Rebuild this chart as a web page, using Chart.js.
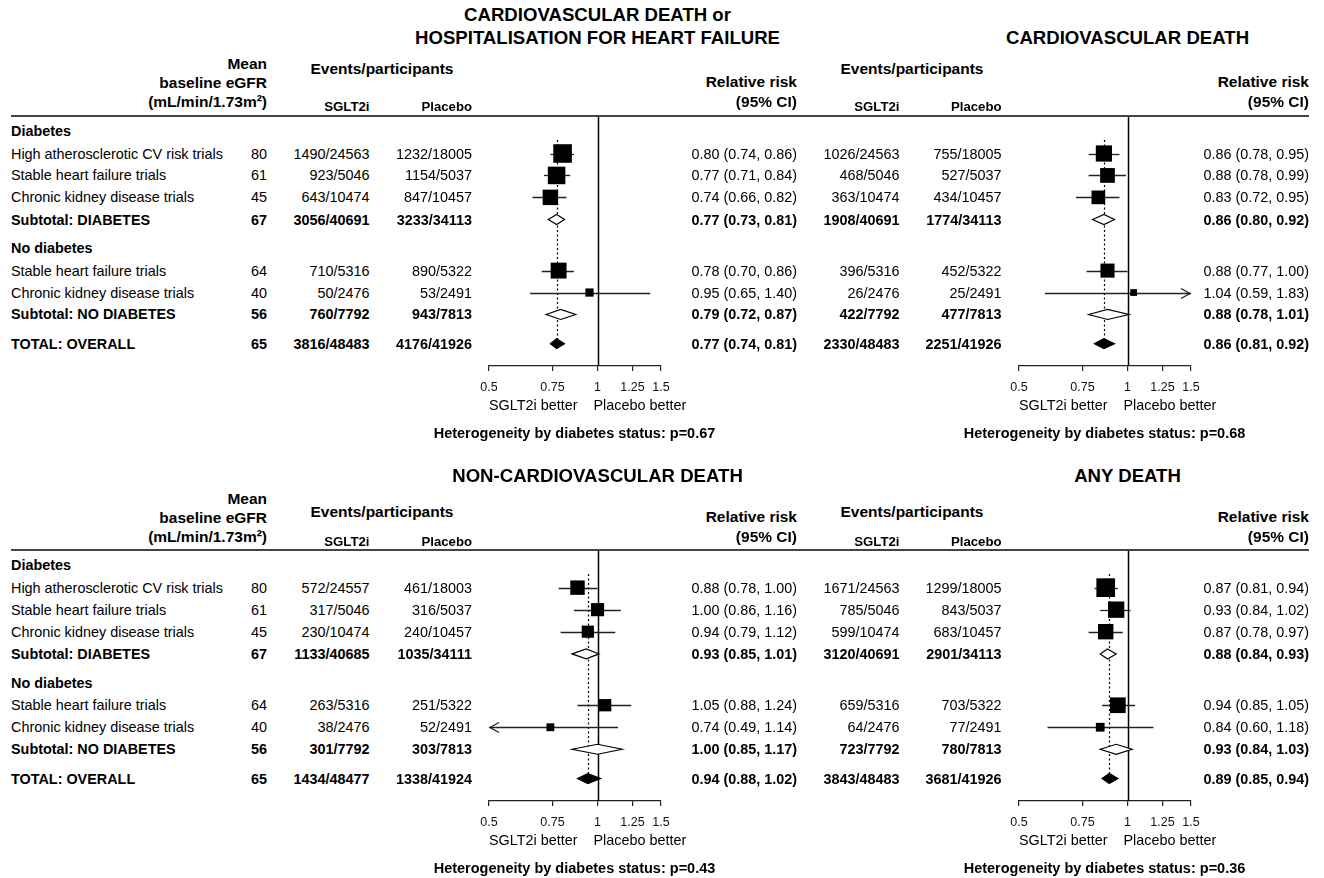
<!DOCTYPE html>
<html>
<head>
<meta charset="utf-8">
<title>SGLT2 inhibitors by diabetes status</title>
<script src="https://cdn.jsdelivr.net/npm/chart.js@4.4.1/dist/chart.umd.min.js"></script>
<style>
  html, body { margin: 0; padding: 0; background: #fff; }
  #page { position: relative; width: 1324px; height: 878px; overflow: hidden;
          font-family: "Liberation Sans", Arial, sans-serif; color: #000; }
  #page canvas { position: absolute; }
  .t { position: absolute; white-space: nowrap; line-height: 1; }
  .rule { position: absolute; height: 2px; background: #444; }
</style>
</head>
<body>
<div id="page"></div>
<script>
// ---- Rows shared by every panel ----
const rowLabels = ['Diabetes', 'High atherosclerotic CV risk trials', 'Stable heart failure trials',
  'Chronic kidney disease trials', 'Subtotal: DIABETES', 'No diabetes', 'Stable heart failure trials',
  'Chronic kidney disease trials', 'Subtotal: NO DIABETES', 'TOTAL: OVERALL'];
const rowKinds = ['group', 'trial', 'trial', 'trial', 'subtotal', 'group', 'trial', 'trial', 'subtotal', 'total'];
const meanEgfr = [null, 80, 61, 45, 67, null, 64, 40, 56, 65];

// ---- Relative-risk axis ----
const axisTicks = [0.5, 0.75, 1, 1.25, 1.5];
const axisTickLabels = ['0.5', '0.75', '1', '1.25', '1.5'];

// ---- Cardiovascular death or hospitalisation for heart failure ----
const cvHfSglt2 = [null, '1490/24563', '923/5046', '643/10474', '3056/40691', null, '710/5316', '50/2476', '760/7792', '3816/48483'];
const cvHfPlacebo = [null, '1232/18005', '1154/5037', '847/10457', '3233/34113', null, '890/5322', '53/2491', '943/7813', '4176/41926'];
const cvHfRR = [null, 0.80, 0.77, 0.74, 0.77, null, 0.78, 0.95, 0.79, 0.77];
const cvHfLow = [null, 0.74, 0.71, 0.66, 0.73, null, 0.70, 0.65, 0.72, 0.74];
const cvHfHigh = [null, 0.86, 0.84, 0.82, 0.81, null, 0.86, 1.40, 0.87, 0.81];
const cvHfP = '0.67';

// ---- Cardiovascular death ----
const cvdSglt2 = [null, '1026/24563', '468/5046', '363/10474', '1908/40691', null, '396/5316', '26/2476', '422/7792', '2330/48483'];
const cvdPlacebo = [null, '755/18005', '527/5037', '434/10457', '1774/34113', null, '452/5322', '25/2491', '477/7813', '2251/41926'];
const cvdRR = [null, 0.86, 0.88, 0.83, 0.86, null, 0.88, 1.04, 0.88, 0.86];
const cvdLow = [null, 0.78, 0.78, 0.72, 0.80, null, 0.77, 0.59, 0.78, 0.81];
const cvdHigh = [null, 0.95, 0.99, 0.95, 0.92, null, 1.00, 1.83, 1.01, 0.92];
const cvdP = '0.68';

// ---- Non-cardiovascular death ----
const noncvSglt2 = [null, '572/24557', '317/5046', '230/10474', '1133/40685', null, '263/5316', '38/2476', '301/7792', '1434/48477'];
const noncvPlacebo = [null, '461/18003', '316/5037', '240/10457', '1035/34111', null, '251/5322', '52/2491', '303/7813', '1338/41924'];
const noncvRR = [null, 0.88, 1.00, 0.94, 0.93, null, 1.05, 0.74, 1.00, 0.94];
const noncvLow = [null, 0.78, 0.86, 0.79, 0.85, null, 0.88, 0.49, 0.85, 0.88];
const noncvHigh = [null, 1.00, 1.16, 1.12, 1.01, null, 1.24, 1.14, 1.17, 1.02];
const noncvP = '0.43';

// ---- Any death ----
const anySglt2 = [null, '1671/24563', '785/5046', '599/10474', '3120/40691', null, '659/5316', '64/2476', '723/7792', '3843/48483'];
const anyPlacebo = [null, '1299/18005', '843/5037', '683/10457', '2901/34113', null, '703/5322', '77/2491', '780/7813', '3681/41926'];
const anyRR = [null, 0.87, 0.93, 0.87, 0.88, null, 0.94, 0.84, 0.93, 0.89];
const anyLow = [null, 0.81, 0.84, 0.78, 0.84, null, 0.85, 0.60, 0.84, 0.85];
const anyHigh = [null, 0.94, 1.02, 0.97, 0.93, null, 1.05, 1.18, 1.03, 0.94];
const anyP = '0.36';

const panels = [
  { title: ['CARDIOVASCULAR DEATH or', 'HOSPITALISATION FOR HEART FAILURE'], sglt2: cvHfSglt2, placebo: cvHfPlacebo,
    rr: cvHfRR, low: cvHfLow, high: cvHfHigh, p: cvHfP, section: 0, column: 0 },
  { title: ['CARDIOVASCULAR DEATH'], sglt2: cvdSglt2, placebo: cvdPlacebo,
    rr: cvdRR, low: cvdLow, high: cvdHigh, p: cvdP, section: 0, column: 1 },
  { title: ['NON-CARDIOVASCULAR DEATH'], sglt2: noncvSglt2, placebo: noncvPlacebo,
    rr: noncvRR, low: noncvLow, high: noncvHigh, p: noncvP, section: 1, column: 0 },
  { title: ['ANY DEATH'], sglt2: anySglt2, placebo: anyPlacebo,
    rr: anyRR, low: anyLow, high: anyHigh, p: anyP, section: 1, column: 1 }
];

// ---- Layout ----
const PAGE_W = 1324;
const FONT = '"Liberation Sans", Arial, sans-serif';
const BODY = 14.4;
const rowPos = [0.7, 1.71, 2.71, 3.71, 4.72, 6.04, 7.05, 8.05, 9.05, 10.38]; // vertical slot of each row
const rowSpan = 11.4;          // rows shown between the header rule and the axis
const dottedFrom = 1.09;       // where the overall-estimate guide starts
const sectionLayout = [
  { canvasTop: 100, canvasH: 300,
    head: { mean: -52, base: -33.3, unit: -14, events: -46.7, arm: -9.3, rr: -33.7, ci: -14.3, title: -78 } },
  { canvasTop: 534, canvasH: 301,
    head: { mean: -51, base: -32.3, unit: -13, events: -38.3, arm: -8.3, rr: -32.7, ci: -12.7, title: -74 } }
];
const columnLayout = [
  { canvasLeft: 439, sgltRight: 369.5, pboRight: 472, rrRight: 797, eventsCenter: 382 },
  { canvasLeft: 969, sgltRight: 899.5, pboRight: 1001.5, rrRight: 1309, eventsCenter: 912 }
];
const CANVAS_W = 272;

const page = document.getElementById('page');

function put(str, x, y, o = {}) {
  const d = document.createElement('div');
  d.className = 't';
  d.textContent = str;
  d.style.fontSize = (o.size || BODY) + 'px';
  if (o.bold) d.style.fontWeight = 'bold';
  const align = o.align || 'left';
  if (align === 'right') {
    d.style.right = (PAGE_W - x) + 'px';
    d.style.transform = 'translateY(-50%)';
  } else if (align === 'center') {
    d.style.left = x + 'px';
    d.style.transform = 'translate(-50%, -50%)';
  } else {
    d.style.left = x + 'px';
    d.style.transform = 'translateY(-50%)';
  }
  d.style.top = y + 'px';
  page.appendChild(d);
  return d;
}

const fmt = v => v.toFixed(2);
// square side grows with the precision of the estimate
const boxSide = (lo, hi) => 7.2 / Math.sqrt(Math.log(hi / lo));

function forestPlugin(panel) {
  return {
    id: 'forestMarks',
    beforeDatasetsDraw(chart) {
      const { ctx, chartArea: a, scales: { x, y } } = chart;
      ctx.save();
      // line of no effect
      const x1 = Math.round(x.getPixelForValue(1)) + 0.5;
      ctx.strokeStyle = '#000';
      ctx.lineWidth = 1.5;
      ctx.beginPath(); ctx.moveTo(x1, a.top); ctx.lineTo(x1, a.bottom); ctx.stroke();
      // dotted guide at the overall estimate
      const ti = rowKinds.indexOf('total');
      const xo = Math.round(x.getPixelForValue(panel.rr[ti])) + 0.5;
      ctx.lineWidth = 1.2;
      ctx.setLineDash([2, 2.5]);
      ctx.beginPath();
      ctx.moveTo(xo, y.getPixelForValue(dottedFrom));
      ctx.lineTo(xo, y.getPixelForValue(rowPos[ti]));
      ctx.stroke();
      ctx.setLineDash([]);
      // confidence intervals of individual trial groups
      ctx.strokeStyle = '#222';
      ctx.lineWidth = 1.3;
      rowKinds.forEach((k, i) => {
        if (k !== 'trial') return;
        const yy = Math.round(y.getPixelForValue(rowPos[i])) + 0.5;
        const l = x.getPixelForValue(Math.max(panel.low[i], x.min));
        const r = x.getPixelForValue(Math.min(panel.high[i], x.max));
        ctx.beginPath(); ctx.moveTo(l, yy); ctx.lineTo(r, yy); ctx.stroke();
        const arrow = (tip, dir) => {
          ctx.beginPath();
          ctx.moveTo(tip - dir * 9, yy - 5);
          ctx.lineTo(tip, yy);
          ctx.lineTo(tip - dir * 9, yy + 5);
          ctx.stroke();
        };
        if (panel.low[i] < x.min) arrow(l + 1, -1);
        if (panel.high[i] > x.max) arrow(r - 1, 1);
      });
      ctx.restore();
    },
    afterDatasetsDraw(chart) {
      const { ctx, scales: { x, y } } = chart;
      ctx.save();
      rowKinds.forEach((k, i) => {
        if (k !== 'subtotal' && k !== 'total') return;
        const yy = y.getPixelForValue(rowPos[i]);
        const xl = x.getPixelForValue(panel.low[i]);
        const xm = x.getPixelForValue(panel.rr[i]);
        const xr = x.getPixelForValue(panel.high[i]);
        const h = 5;
        ctx.beginPath();
        ctx.moveTo(xl, yy); ctx.lineTo(xm, yy - h); ctx.lineTo(xr, yy); ctx.lineTo(xm, yy + h); ctx.closePath();
        ctx.fillStyle = k === 'total' ? '#000' : '#fff';
        ctx.fill();
        ctx.strokeStyle = '#000';
        ctx.lineWidth = 1.2;
        ctx.stroke();
      });
      ctx.restore();
    }
  };
}

function makeChart(panel) {
  const sec = sectionLayout[panel.section];
  const col = columnLayout[panel.column];
  const cv = document.createElement('canvas');
  cv.width = CANVAS_W;
  cv.height = sec.canvasH;
  cv.style.left = col.canvasLeft + 'px';
  cv.style.top = sec.canvasTop + 'px';
  page.appendChild(cv);

  const trialRows = rowKinds.map((k, i) => (k === 'trial' ? i : -1)).filter(i => i >= 0);
  const radii = trialRows.map(i => boxSide(panel.low[i], panel.high[i]) / (2 * Math.SQRT1_2));

  return new Chart(cv, {
    type: 'scatter',
    data: {
      datasets: [{
        data: trialRows.map(i => ({ x: panel.rr[i], y: rowPos[i] })),
        pointStyle: 'rect',
        pointRadius: radii,
        pointHoverRadius: radii,
        pointBorderWidth: 0,
        backgroundColor: '#000',
        borderColor: '#000'
      }]
    },
    options: {
      responsive: false,
      animation: false,
      events: [],
      layout: { padding: { left: 50, right: 50, top: 16, bottom: 4 } },
      plugins: { legend: { display: false }, tooltip: { enabled: false }, title: { display: false } },
      scales: {
        x: {
          type: 'logarithmic',
          position: 'bottom',
          min: 0.5,
          max: 1.5,
          bounds: 'data',
          afterBuildTicks: s => { s.ticks = axisTicks.map(v => ({ value: v })); },
          afterFit: s => { s.height = 30; },
          grid: { drawOnChartArea: false, drawTicks: true, tickLength: 5, color: '#222', lineWidth: 1.2 },
          border: { display: true, color: '#222', width: 1.2 },
          ticks: {
            autoSkip: false, maxRotation: 0, minRotation: 0, padding: 9,
            color: '#111', font: { family: FONT, size: 12.5 },
            callback: (v, idx) => axisTickLabels[idx]
          }
        },
        y: { type: 'linear', display: false, reverse: true, min: 0, max: rowSpan }
      }
    },
    plugins: [forestPlugin(panel)]
  });
}

const charts = panels.map(makeChart);

// ---- Text: shared row column, per-panel columns, headings ----
panels.forEach((panel, pi) => {
  const chart = charts[pi];
  const sec = sectionLayout[panel.section];
  const col = columnLayout[panel.column];
  const top = sec.canvasTop;
  const left = col.canvasLeft;
  const ruleY = top + chart.chartArea.top;
  const axisY = top + chart.chartArea.bottom;
  const x1 = left + chart.scales.x.getPixelForValue(1);
  const rowY = i => top + chart.scales.y.getPixelForValue(rowPos[i]);
  const h = sec.head;

  if (panel.column === 0) {
    // header rule across the table
    const rule = document.createElement('div');
    rule.className = 'rule';
    rule.style.left = '11px';
    rule.style.width = (1309 - 11) + 'px';
    rule.style.top = (ruleY - 1) + 'px';
    page.appendChild(rule);

    put('Mean', 267, ruleY + h.mean, { align: 'right', bold: true, size: 15.5 });
    put('baseline eGFR', 267, ruleY + h.base, { align: 'right', bold: true, size: 15.5 });
    put('(mL/min/1.73m\u00B2)', 267, ruleY + h.unit, { align: 'right', bold: true, size: 15.5 });

    rowLabels.forEach((lab, i) => {
      const bold = rowKinds[i] !== 'trial';
      put(lab, 11, rowY(i), { bold });
      if (meanEgfr[i] !== null) put(String(meanEgfr[i]), 267, rowY(i), { align: 'right', bold });
    });
  }

  // panel title, centred on the line of no effect
  const titleLines = panel.title;
  titleLines.forEach((line, li) => {
    const yy = ruleY + h.title - (titleLines.length - 1 - li) * 23;
    put(line, x1, yy, { align: 'center', bold: true, size: 18.6 });
  });

  put('Events/participants', col.eventsCenter, ruleY + h.events, { align: 'center', bold: true, size: 15.5 });
  put('SGLT2i', col.sgltRight, ruleY + h.arm, { align: 'right', bold: true, size: 13.2 });
  put('Placebo', col.pboRight, ruleY + h.arm, { align: 'right', bold: true, size: 13.2 });
  put('Relative risk', col.rrRight, ruleY + h.rr, { align: 'right', bold: true, size: 15.5 });
  put('(95% CI)', col.rrRight, ruleY + h.ci, { align: 'right', bold: true, size: 15.5 });

  rowKinds.forEach((k, i) => {
    if (k === 'group') return;
    const bold = k !== 'trial';
    put(panel.sglt2[i], col.sgltRight, rowY(i), { align: 'right', bold });
    put(panel.placebo[i], col.pboRight, rowY(i), { align: 'right', bold });
    put(`${fmt(panel.rr[i])} (${fmt(panel.low[i])}, ${fmt(panel.high[i])})`, col.rrRight, rowY(i), { align: 'right', bold });
  });

  put('SGLT2i better', x1 - 20, axisY + 39, { align: 'right', size: 14.4 });
  put('Placebo better', x1 - 4, axisY + 39, { align: 'left', size: 14.4 });
  put('Heterogeneity by diabetes status: p=' + panel.p, x1 - 23, axisY + 66.5, { align: 'center', bold: true, size: 14.5 });
});
</script>
</body>
</html>
